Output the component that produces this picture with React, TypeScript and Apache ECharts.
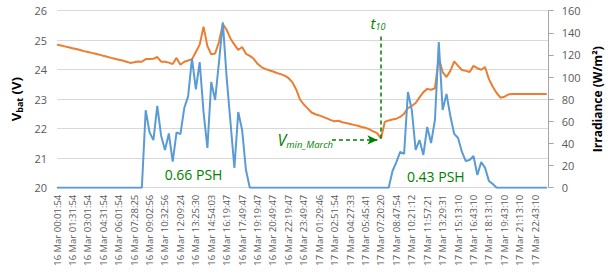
import React, { useEffect, useRef } from 'react';
import * as echarts from 'echarts';

const tickLabels = [
  '16 Mar 00:01:54', '16 Mar 01:31:54', '16 Mar 03:01:54', '16 Mar 04:31:54',
  '16 Mar 06:01:54', '16 Mar 07:28:25', '16 Mar 09:02:56', '16 Mar 10:32:56',
  '16 Mar 12:09:24', '16 Mar 13:25:30', '16 Mar 14:54:03', '16 Mar 16:19:47',
  '16 Mar 17:49:47', '16 Mar 19:19:47', '16 Mar 20:49:47', '16 Mar 22:19:47',
  '16 Mar 23:49:47', '17 Mar 01:29:46', '17 Mar 02:51:54', '17 Mar 04:27:33',
  '17 Mar 05:45:41', '17 Mar 07:20:20', '17 Mar 08:47:54', '17 Mar 10:21:12',
  '17 Mar 11:57:21', '17 Mar 13:29:31', '17 Mar 15:13:10', '17 Mar 16:43:10',
  '17 Mar 18:13:10', '17 Mar 19:43:10', '17 Mar 21:13:10', '17 Mar 22:43:10',
];

const pointsPerTick = 4;

// Battery voltage (V), left axis
const voltage = [
  24.85, 24.82, 24.79, 24.76, 24.73, 24.70, 24.67, 24.63, 24.60, 24.57,
  24.54, 24.51, 24.47, 24.44, 24.40, 24.37, 24.34, 24.31, 24.27, 24.23,
  24.25, 24.28, 24.27, 24.36, 24.36, 24.37, 24.43, 24.27, 24.27, 24.24,
  24.19, 24.40, 24.17, 24.27, 24.31, 24.35, 24.60, 24.85, 25.46, 24.80,
  24.52, 24.55, 24.94, 25.55, 25.35, 25.05, 24.85, 24.67, 24.77, 24.54,
  24.47, 24.37, 24.20, 24.09, 24.03, 23.98, 23.94, 23.89, 23.85, 23.80,
  23.72, 23.58, 23.34, 22.99, 22.82, 22.69, 22.55, 22.49, 22.45, 22.40,
  22.35, 22.29, 22.25, 22.27, 22.22, 22.19, 22.16, 22.13, 22.10, 22.06,
  22.03, 21.98, 21.91, 21.85, 21.67, 22.23, 22.28, 22.31, 22.34, 22.40,
  22.51, 22.70, 22.77, 22.87, 23.06, 23.24, 23.35, 23.32, 23.37, 24.40,
  23.92, 23.75, 23.96, 24.28, 24.13, 23.99, 23.96, 23.92, 24.13, 24.05,
  24.00, 24.09, 23.68, 23.42, 23.21, 23.05, 23.08, 23.16, 23.18, 23.18,
  23.18, 23.18, 23.18, 23.18, 23.18, 23.18, 23.18, 23.18,
];

// Irradiance (W/m2), right axis
const irradiance = [
  0, 0, 0, 0, 0, 0, 0, 0, 0, 0,
  0, 0, 0, 0, 0, 0, 0, 0, 0, 0,
  0, 0, 0, 70, 50, 43, 74, 47, 34, 49,
  23.5, 50, 48.5, 72, 82.6, 117, 89, 113.6, 68.4, 35.9,
  95.6, 79.3, 113.6, 149.4, 99.2, 58.5, 17.8, 68.4, 52.2, 16,
  0, 0, 0, 0, 0, 0, 0, 0, 0, 0,
  0, 0, 0, 0, 0, 0, 0, 0, 0, 0,
  0, 0, 0, 0, 0, 0, 0, 0, 0, 0,
  0, 0, 0, 0, 0, 0, 0, 15.1, 23.2, 32.3,
  30.5, 86.5, 70.3, 34.1, 43.1, 29.6, 54.9, 40.4, 61.2, 131.7,
  70.3, 84.7, 64.8, 48.6, 44.9, 32.3, 24.1, 25, 28.7, 11.5,
  23.2, 17.9, 6.1, 3.3, 0, 0, 0, 0, 0, 0,
  0, 0, 0, 0, 0, 0, 0, 0,
];

const annotations = {
  psh1: '0.66 PSH',
  psh2: '0.43 PSH',
  t10TopV: 25.22,
};

const FONT = "'Open Sans', 'Noto Sans', sans-serif";
const GREEN = '#008000';
const ORANGE = '#ED7D31';
const BLUE = '#5B9BD5';

export default function App() {
  const ref = useRef<HTMLDivElement>(null);

  useEffect(() => {
    if (!ref.current) return;
    const chart = echarts.init(ref.current, null, { renderer: 'svg' });

    const vMin = Math.min(...voltage);
    const minIdx = voltage.indexOf(vMin);

    const option: any = {
      animation: false,
      backgroundColor: '#ffffff',
      textStyle: { fontFamily: FONT },
      grid: { left: 57, right: 67.3, top: 10.7, bottom: 92.3 },
      xAxis: {
        type: 'value',
        min: 0,
        max: 127.5,
        interval: pointsPerTick,
        axisLine: { show: true, lineStyle: { color: '#d9d9d9', width: 1 } },
        axisTick: { show: false },
        splitLine: { show: false },
        axisLabel: {
          rotate: 90,
          margin: 7,
          fontSize: 9.5,
          color: '#595959',
          fontFamily: FONT,
          formatter: (v: number) => {
            const k = v / pointsPerTick;
            return Number.isInteger(k) && k < tickLabels.length ? tickLabels[k] : '';
          },
        },
      },
      yAxis: [
        {
          type: 'value',
          position: 'left',
          min: 20,
          max: 26,
          interval: 1,
          name: '{v|V}{s|bat}{v| (V)}',
          nameLocation: 'middle',
          nameRotate: 90,
          nameGap: 29,
          nameTextStyle: {
            rich: {
              v: { fontSize: 13, fontWeight: 'bold', color: '#000', fontFamily: FONT, lineHeight: 16 },
              s: { fontSize: 9, fontWeight: 'bold', color: '#000', fontFamily: FONT, lineHeight: 9, verticalAlign: 'bottom' },
            },
          },
          axisLine: { show: false },
          axisTick: { show: false },
          axisLabel: { fontSize: 11, color: '#595959', margin: 10, fontFamily: FONT },
          splitLine: { show: true, lineStyle: { color: '#d9d9d9', width: 1 } },
        },
        {
          type: 'value',
          position: 'right',
          min: 0,
          max: 160,
          interval: 20,
          name: 'Irradiance (W/m²)',
          nameLocation: 'middle',
          nameRotate: 90,
          nameGap: 40,
          nameTextStyle: { fontSize: 12, fontWeight: 'bold', color: '#000', fontFamily: FONT },
          axisLine: { show: true, lineStyle: { color: '#a6a6a6', width: 1 } },
          axisTick: { show: true, length: 5, inside: false, lineStyle: { color: '#a6a6a6' } },
          axisLabel: { fontSize: 11, color: '#595959', margin: 13, fontFamily: FONT },
          splitLine: { show: false },
        },
      ],
      series: [
        {
          name: 'Vbat',
          type: 'line',
          yAxisIndex: 0,
          data: voltage.map((v, i) => [i, v]),
          showSymbol: false,
          symbol: 'none',
          lineStyle: { color: ORANGE, width: 2 },
          itemStyle: { color: ORANGE },
          z: 2,
          markLine: {
            silent: true,
            symbol: ['none', 'none'],
            label: { show: false },
            lineStyle: { color: GREEN, type: [4, 3], width: 1.5 },
            data: [
              [
                { coord: [minIdx, vMin] },
                { coord: [minIdx, annotations.t10TopV] },
              ],
              [
                { coord: [minIdx - 12.7, vMin - 0.05], symbol: 'none' },
                { coord: [minIdx - 0.9, vMin - 0.05], symbol: 'arrow', symbolSize: [7, 10] },
              ],
            ],
          },
        },
        {
          name: 'Irradiance',
          type: 'line',
          yAxisIndex: 1,
          data: irradiance.map((v, i) => [i, v]),
          showSymbol: false,
          symbol: 'none',
          lineStyle: { color: BLUE, width: 2 },
          itemStyle: { color: BLUE },
          z: 3,
        },
      ],
      graphic: [
        {
          type: 'text',
          x: 193.5,
          y: 174.5,
          style: {
            text: annotations.psh1,
            fill: GREEN,
            fontSize: 14,
            fontFamily: FONT,
            align: 'center',
            verticalAlign: 'middle',
            textAlign: 'center',
            textVerticalAlign: 'middle',
          },
        },
        {
          type: 'text',
          x: 435.8,
          y: 176,
          style: {
            text: annotations.psh2,
            fill: GREEN,
            fontSize: 14,
            fontFamily: FONT,
            align: 'center',
            verticalAlign: 'middle',
            textAlign: 'center',
            textVerticalAlign: 'middle',
          },
        },
        {
          type: 'text',
          x: 370.5,
          y: 31,
          style: {
            text: '{t|t}{s|10}',
            fill: GREEN,
            align: 'left',
            verticalAlign: 'bottom',
            textAlign: 'left',
            textVerticalAlign: 'bottom',
            rich: {
              t: { fontSize: 15, fontStyle: 'italic', fontFamily: FONT, fill: GREEN, lineHeight: 16 },
              s: { fontSize: 9, fontStyle: 'italic', fontFamily: FONT, fill: GREEN, lineHeight: 9, verticalAlign: 'bottom' },
            },
          },
        },
        {
          type: 'text',
          x: 277.5,
          y: 149,
          style: {
            text: '{v|V}{s|min_March}',
            fill: GREEN,
            align: 'left',
            verticalAlign: 'bottom',
            textAlign: 'left',
            textVerticalAlign: 'bottom',
            rich: {
              v: { fontSize: 16, fontStyle: 'italic', fontFamily: FONT, fill: GREEN, lineHeight: 18 },
              s: { fontSize: 9.5, fontStyle: 'italic', fontFamily: FONT, fill: GREEN, lineHeight: 10, verticalAlign: 'bottom' },
            },
          },
        },
      ],
    };

    chart.setOption(option);
    return () => chart.dispose();
  }, []);

  return (
    <div
      ref={ref}
      style={{ position: 'fixed', left: 0, top: 0, width: 616, height: 280, background: '#fff' }}
    />
  );
}
